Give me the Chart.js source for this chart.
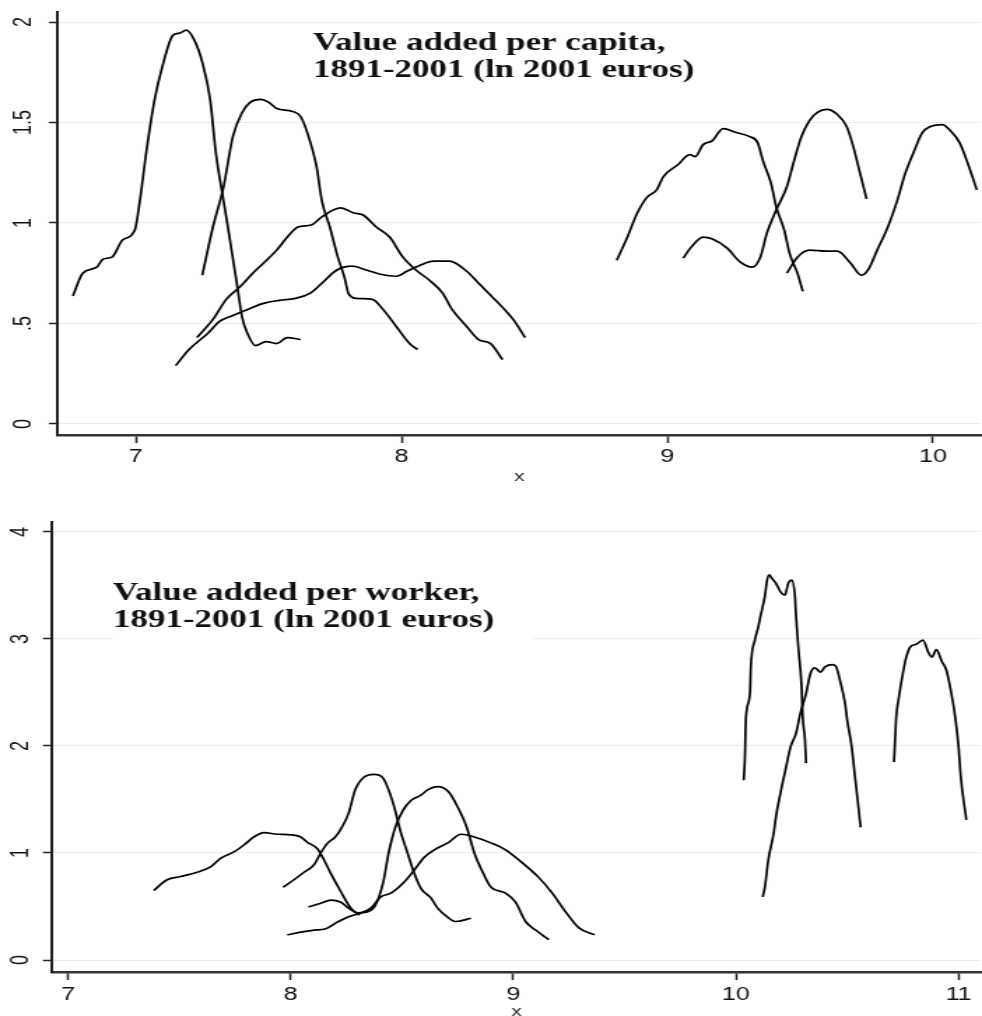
<!DOCTYPE html>
<html>
<head>
<meta charset="utf-8">
<script src="https://cdn.jsdelivr.net/npm/chart.js@4.4.1/dist/chart.umd.min.js"></script>
<style>
  html, body { margin: 0; padding: 0; background: #fff; overflow: hidden; }
  .wrap { position: absolute; left: 0; width: 702px; transform: scaleX(1.39886); transform-origin: 0 0; }
  #w1 { top: 0; height: 490px; }
  #w2 { top: 490px; height: 526px; }
</style>
</head>
<body>
<div class="wrap" id="w1"><canvas id="perCapita"></canvas></div>
<div class="wrap" id="w2"><canvas id="perWorker"></canvas></div>
<script>
// stretch of the original picture (drawn narrow, widened by css)
var S = 982 / 702;

// ---- value added per capita (top panel) ----
var capXTicks = [7, 8, 9, 10];
var capYTicks = [0, 0.5, 1, 1.5, 2];
var capYLabels = ['0', '.5', '1', '1.5', '2'];
var capNote = ['Value added per capita,', '1891-2001 (ln 2001 euros)'];

var capAx = [6.763,6.80,6.853,6.876,6.91,6.95,6.996,7.015,7.04,7.07,7.10,7.14,7.165,7.19,7.22,7.25,7.28,7.30,7.33,7.35,7.38,7.40,7.42,7.45,7.49,7.53,7.57,7.62];
var capAy = [0.637,0.75,0.78,0.82,0.83,0.915,0.965,1.11,1.36,1.61,1.78,1.935,1.945,1.96,1.91,1.80,1.61,1.36,1.11,0.95,0.70,0.53,0.45,0.39,0.41,0.40,0.43,0.42];
var capBx = [7.25,7.29,7.33,7.365,7.40,7.43,7.47,7.50,7.53,7.59,7.62,7.65,7.68,7.70,7.73,7.76,7.785,7.80,7.83,7.89,7.93,7.98,8.03,8.06];
var capBy = [0.74,0.98,1.18,1.43,1.55,1.60,1.615,1.60,1.57,1.555,1.53,1.43,1.28,1.11,0.98,0.83,0.73,0.65,0.625,0.62,0.57,0.485,0.40,0.37];
var capCx = [7.23,7.29,7.34,7.39,7.44,7.48,7.53,7.57,7.61,7.66,7.70,7.77,7.82,7.855,7.905,7.955,8.005,8.055,8.105,8.155,8.19,8.245,8.29,8.335,8.38];
var capCy = [0.43,0.52,0.62,0.68,0.75,0.80,0.865,0.93,0.98,0.99,1.03,1.075,1.05,1.04,0.98,0.93,0.83,0.765,0.715,0.65,0.57,0.485,0.42,0.40,0.32];
var capDx = [7.15,7.20,7.27,7.315,7.365,7.43,7.48,7.54,7.60,7.655,7.70,7.755,7.815,7.87,7.92,7.98,8.02,8.07,8.12,8.18,8.245,8.29,8.335,8.38,8.42,8.465];
var capDy = [0.29,0.37,0.45,0.51,0.54,0.575,0.60,0.615,0.625,0.65,0.70,0.765,0.785,0.765,0.745,0.735,0.76,0.79,0.81,0.81,0.76,0.70,0.64,0.58,0.52,0.43];
var capEx = [8.81,8.85,8.887,8.925,8.96,8.985,9.04,9.085,9.105,9.135,9.17,9.21,9.26,9.31,9.34,9.36,9.39,9.41,9.44,9.46,9.49,9.51];
var capEy = [0.815,0.93,1.05,1.13,1.165,1.23,1.29,1.34,1.33,1.39,1.41,1.47,1.45,1.43,1.40,1.31,1.20,1.08,0.965,0.85,0.75,0.66];
var capFx = [9.06,9.09,9.135,9.17,9.225,9.275,9.32,9.35,9.375,9.41,9.45,9.475,9.505,9.535,9.565,9.60,9.64,9.675,9.70,9.725,9.75];
var capFy = [0.825,0.88,0.93,0.92,0.875,0.805,0.78,0.83,0.95,1.065,1.18,1.30,1.43,1.51,1.55,1.565,1.54,1.48,1.38,1.25,1.12];
var capGx = [9.45,9.49,9.535,9.60,9.64,9.69,9.73,9.755,9.79,9.83,9.865,9.895,9.925,9.96,9.99,10.035,10.065,10.10,10.13,10.165];
var capGy = [0.75,0.83,0.865,0.86,0.86,0.80,0.74,0.765,0.865,0.98,1.11,1.245,1.345,1.45,1.48,1.49,1.46,1.40,1.30,1.165];

// ---- value added per worker (bottom panel) ----
var wrkXTicks = [7, 8, 9, 10, 11];
var wrkYTicks = [0, 1, 2, 3, 4];
var wrkYLabels = ['0', '1', '2', '3', '4'];
var wrkNote = ['Value added per worker,', '1891-2001 (ln 2001 euros)'];

var wrkHx = [7.385,7.445,7.505,7.58,7.64,7.685,7.745,7.79,7.835,7.88,7.94,8.0,8.045,8.075,8.12,8.15,8.18,8.225,8.27,8.31];
var wrkHy = [0.65,0.75,0.78,0.82,0.87,0.95,1.01,1.075,1.15,1.19,1.175,1.17,1.15,1.10,1.04,0.935,0.81,0.64,0.485,0.42];
var wrkIx = [7.965,8.015,8.06,8.105,8.135,8.165,8.20,8.23,8.26,8.29,8.33,8.375,8.415,8.44,8.465,8.495,8.525,8.555,8.585,8.63,8.66,8.705,8.74,8.81];
var wrkIy = [0.68,0.75,0.82,0.89,1.00,1.09,1.15,1.24,1.37,1.59,1.71,1.735,1.70,1.59,1.43,1.19,1.00,0.81,0.67,0.58,0.485,0.40,0.36,0.39];
var wrkJx = [8.08,8.135,8.18,8.225,8.26,8.30,8.345,8.38,8.415,8.44,8.47,8.505,8.54,8.585,8.615,8.66,8.71,8.75,8.79,8.825,8.865,8.90,8.965,9.01,9.055,9.10,9.16];
var wrkJy = [0.495,0.53,0.56,0.54,0.485,0.44,0.45,0.51,0.72,1.00,1.24,1.40,1.49,1.54,1.59,1.62,1.57,1.43,1.245,1.00,0.81,0.68,0.625,0.54,0.36,0.28,0.19];
var wrkKx = [7.985,8.045,8.105,8.155,8.21,8.255,8.315,8.36,8.405,8.45,8.51,8.555,8.60,8.645,8.71,8.765,8.825,8.905,8.965,9.025,9.115,9.175,9.235,9.295,9.365];
var wrkKy = [0.235,0.26,0.28,0.29,0.355,0.40,0.44,0.485,0.59,0.625,0.73,0.84,0.96,1.03,1.10,1.175,1.15,1.09,1.03,0.935,0.77,0.625,0.45,0.30,0.235];
var wrkLx = [10.035,10.04,10.045,10.063,10.067,10.085,10.10,10.11,10.13,10.14,10.15,10.16,10.18,10.20,10.22,10.235,10.25,10.265,10.27,10.28,10.295,10.30,10.31,10.315];
var wrkLy = [1.68,1.87,2.27,2.49,2.74,2.99,3.11,3.21,3.40,3.55,3.60,3.57,3.52,3.44,3.41,3.52,3.55,3.40,3.21,2.93,2.55,2.27,2.06,1.84];
var wrkMx = [10.12,10.13,10.145,10.17,10.18,10.20,10.225,10.245,10.27,10.29,10.315,10.335,10.355,10.38,10.40,10.435,10.45,10.47,10.49,10.50,10.52,10.535,10.55,10.56];
var wrkMy = [0.59,0.68,0.93,1.19,1.34,1.56,1.80,1.99,2.12,2.31,2.49,2.68,2.73,2.69,2.74,2.76,2.74,2.59,2.40,2.24,1.99,1.71,1.43,1.24];
var wrkNx = [10.71,10.715,10.72,10.73,10.75,10.765,10.785,10.81,10.84,10.865,10.88,10.90,10.925,10.945,10.965,10.985,11.0,11.01,11.035];
var wrkNy = [1.85,2.06,2.27,2.43,2.68,2.83,2.93,2.95,2.99,2.87,2.83,2.90,2.79,2.71,2.52,2.27,1.99,1.71,1.31];

function curve(xs, ys) {
  return {
    data: xs.map(function (x, i) { return { x: x, y: ys[i] }; }),
    borderColor: '#000',
    borderWidth: 1.7,
    pointRadius: 0,
    cubicInterpolationMode: 'monotone',
    fill: false
  };
}

// note text with white box behind it (stata text box)
function notePlugin(lines, left, base, box) {
  return {
    id: 'note',
    beforeDatasetsDraw: function (chart) {
      var ctx = chart.ctx;
      ctx.save();
      if (box) {
        ctx.fillStyle = '#fff';
        ctx.fillRect(box[0], box[1], box[2], box[3]);
      }
      ctx.fillStyle = '#111';
      ctx.font = 'bold 25px "Liberation Serif", "Times New Roman", serif';
      ctx.textBaseline = 'alphabetic';
      ctx.textAlign = 'left';
      lines.forEach(function (t, i) { ctx.fillText(t, left, base + i * 27); });
      ctx.restore();
    }
  };
}

function panel(id, sets, cfg) {
  return new Chart(document.getElementById(id), {
    type: 'line',
    data: { datasets: sets },
    options: {
      responsive: true,
      maintainAspectRatio: false,
      animation: false,
      events: [],
      layout: { padding: { top: cfg.top, left: 0, right: 0, bottom: 0 } },
      plugins: { legend: { display: false }, tooltip: { enabled: false } },
      scales: {
        x: {
          type: 'linear',
          min: cfg.xMin, max: cfg.xMax,
          afterBuildTicks: function (s) { s.ticks = cfg.xTicks.map(function (v) { return { value: v }; }); },
          afterFit: function (s) { s.height = cfg.xH; s.paddingLeft = 0; s.paddingRight = 0; },
          grid: { drawOnChartArea: false, drawTicks: true, tickLength: 8, tickColor: '#222', tickWidth: 1.5 },
          border: { color: '#333', width: 2.4 },
          ticks: { font: { family: '"Liberation Sans", Arial, sans-serif', size: 18 }, color: '#111', padding: cfg.xPad, maxRotation: 0 },
          title: { display: true, text: 'x', color: '#333', font: { family: '"Liberation Sans", Arial, sans-serif', size: 15 }, padding: { top: 0, bottom: cfg.tPad } }
        },
        y: {
          min: cfg.yMin, max: cfg.yMax,
          afterBuildTicks: function (s) { s.ticks = cfg.yTicks.map(function (v) { return { value: v }; }); },
          afterFit: function (s) { s.width = cfg.yW; s.paddingTop = 0; s.paddingBottom = 0; },
          grid: { color: '#e6eef1', lineWidth: 1, drawTicks: true, tickLength: 6.5, tickColor: '#222', tickWidth: 1.5 },
          border: { color: '#222', width: 2 },
          ticks: {
            font: { family: '"Liberation Sans", Arial, sans-serif', size: 18 },
            color: '#111',
            minRotation: 90, maxRotation: 90,
            crossAlign: 'center',
            padding: cfg.yPad,
            callback: function (v) { var k = cfg.yTicks.indexOf(v); return k < 0 ? '' : cfg.yLabels[k]; }
          }
        }
      }
    },
    plugins: [notePlugin(cfg.note, cfg.noteX, cfg.noteY, cfg.box)]
  });
}

panel('perCapita', [
  curve(capAx, capAy), curve(capBx, capBy), curve(capCx, capCy), curve(capDx, capDy),
  curve(capEx, capEy), curve(capFx, capFy), curve(capGx, capGy)
], {
  top: 12, xH: 55, yW: 58 / S, xPad: 3, yPad: 5, tPad: 4,
  xMin: 6.707, xMax: 10.18, yMin: -0.055, yMax: 2.05,
  xTicks: capXTicks, yTicks: capYTicks, yLabels: capYLabels,
  note: capNote, noteX: 313 / S, noteY: 50, box: null
});

panel('perWorker', [
  curve(wrkHx, wrkHy), curve(wrkIx, wrkIy), curve(wrkJx, wrkJy), curve(wrkKx, wrkKy),
  curve(wrkLx, wrkLy), curve(wrkMx, wrkMy), curve(wrkNx, wrkNy)
], {
  top: 32, xH: 44, yW: 52 / S, xPad: 4, yPad: 11, tPad: -5,
  xMin: 6.928, xMax: 11.1, yMin: -0.112, yMax: 4.093,
  xTicks: wrkXTicks, yTicks: wrkYTicks, yLabels: wrkYLabels,
  note: wrkNote, noteX: 113 / S, noteY: 110, box: [113 / S, 62, 420 / S, 96]
});
</script>
</body>
</html>
